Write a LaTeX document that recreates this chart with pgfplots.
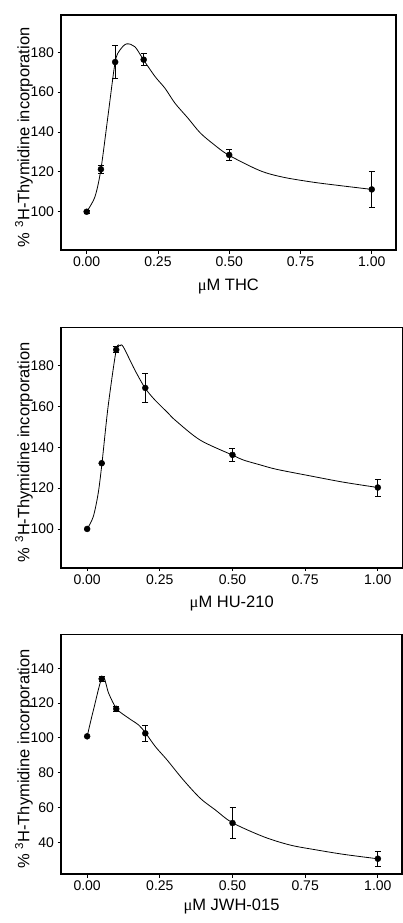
\documentclass[border=0pt]{standalone}
\usepackage{pgfplots}
\usepackage{pgfplotstable}
\pgfplotsset{compat=1.18}
\usepackage{fontspec}
\setmainfont{Liberation Sans}
\newfontfamily\serif{Liberation Serif}

% measured points (x, mean, error)
\pgfplotstableread{
x y e
0 100 0.8
0.05 121.3 2
0.1 175.1 8.2
0.2 176.3 3
0.5 128.5 2.8
1 111.2 9.2
}\thcpts
\pgfplotstableread{
x y e
0 100 0
0.05 132.2 0
0.1 187.8 1.5
0.2 169.1 7
0.5 136.3 3
1 120.3 4.2
}\hupts
\pgfplotstableread{
x y e
0 100.9 0
0.05 133.9 1.7
0.1 116.7 1.2
0.2 102.6 4.8
0.5 51.1 9
1 30.6 4.3
}\jwhpts

% fitted curves
\pgfplotstableread{
x y
0 100
0.029 107.5
0.05 121.3
0.076 149.4
0.1 175.1
0.117 181.2
0.140 184.2
0.169 182.8
0.199 176.3
0.240 167.8
0.275 161.9
0.310 154.4
0.355 147
0.398 139.6
0.444 134.0
0.497 128.5
0.608 120.6
0.690 117.3
0.795 114.8
0.889 113.1
1.0 111.2
}\thccurve
\pgfplotstableread{
x y
0 100
0.021 106.0
0.038 117.5
0.051 132.2
0.072 159.9
0.100 187.7
0.113 189.7
0.124 189.3
0.164 177.9
0.199 169.1
0.233 163.2
0.279 156.7
0.302 153.4
0.388 143.6
0.498 136.3
0.537 133.8
0.595 131.4
0.652 129.2
0.767 126.0
0.882 122.9
1.0 120.3
}\hucurve
\pgfplotstableread{
x y
0 100.9
0.023 117.0
0.053 135.2
0.074 125.6
0.102 116.6
0.143 111.3
0.177 107.4
0.200 103.0
0.235 94.9
0.275 87.3
0.33 76
0.389 65.3
0.441 58.6
0.499 51.3
0.607 43.2
0.699 38.4
0.790 35.6
0.882 33.1
0.997 30.6
}\jwhcurve

\pgfplotsset{
  panel/.style={
    scale only axis,
    anchor=south west,
    axis line style={line width=1.6pt},
    tick pos=left,
    tick align=outside,
    major tick length=3.5pt,
    tick style={black, line width=0.8pt},
    xmin=-0.09,
    xtick={0,0.25,0.5,0.75,1},
    /pgf/number format/assume math mode=true,
    x tick label style={/pgf/number format/fixed, /pgf/number format/fixed zerofill, /pgf/number format/precision=2},
    tick label style={font=\fontsize{14}{16}\selectfont},
    label style={font=\fontsize{16.5}{18}\selectfont},
    ylabel={\% \textsuperscript{3}H-Thymidine incorporation},
  },
  curve/.style={no marks, smooth, tension=0.5, line width=0.8pt, black},
  pts/.style={only marks, mark=*, mark size=3pt, black,
    error bars/.cd, y dir=both, y explicit,
    error bar style={line width=0.8pt},
    error mark options={rotate=90, line width=0.8pt, mark size=3pt}},
}

\begin{document}
\begin{tikzpicture}
\useasboundingbox (0,0) rectangle (403pt,-923pt);

\begin{axis}[panel,
  at={(61pt,-250pt)},
  width=334.7pt, height=235pt,
  xmax=1.084, ymin=80.8, ymax=198.7,
  ytick={100,120,...,180},
  xlabel={{\serif μ}M THC},
  x label style={at={(axis description cs:0.5,-0.157)}, anchor=center},
  y label style={at={(axis description cs:-0.1105,0.48)}, anchor=center},
]
\addplot[curve] table {\thccurve};
\addplot[pts] table[x=x, y=y, y error=e] {\thcpts};
\end{axis}

\begin{axis}[panel,
  at={(61pt,-567.7pt)},
  width=341.5pt, height=240.4pt,
  xmax=1.085, ymin=81, ymax=198.8,
  ytick={100,120,...,180},
  xlabel={{\serif μ}M HU-210},
  x label style={at={(axis description cs:0.5,-0.148)}, anchor=center},
  y label style={at={(axis description cs:-0.1083,0.48)}, anchor=center},
]
\addplot[curve] table {\hucurve};
\addplot[pts] table[x=x, y=y, y error=e] {\hupts};
\end{axis}

\begin{axis}[panel,
  at={(61pt,-874pt)},
  width=341pt, height=239.7pt,
  xmax=1.083, ymin=21.8, ymax=159.5,
  ytick={40,60,...,140},
  xlabel={{\serif μ}M JWH-015},
  x label style={at={(axis description cs:0.5,-0.135)}, anchor=center},
  y label style={at={(axis description cs:-0.1085,0.48)}, anchor=center},
]
\addplot[curve] table {\jwhcurve};
\addplot[pts] table[x=x, y=y, y error=e] {\jwhpts};
\end{axis}
\end{tikzpicture}
\end{document}
